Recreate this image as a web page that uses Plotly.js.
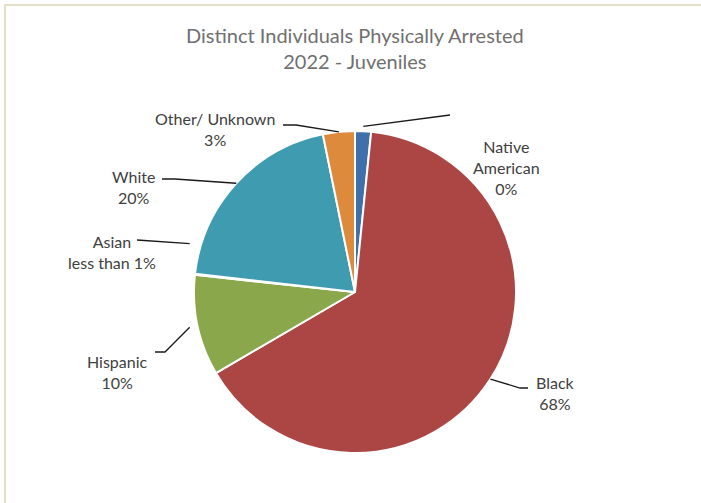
<!DOCTYPE html>
<html>
<head>
<meta charset="utf-8">
<script src="https://cdn.plot.ly/plotly-3.0.1.min.js"></script>
<style>html,body{margin:0;padding:0;background:#fff}#chart{width:701px;height:503px}</style>
</head>
<body>
<div id="chart"></div>
<script>
// ---- data ----
const categories = ["Native American", "Black", "Hispanic", "Asian", "White", "Other/ Unknown"];
const values = [1.6, 65.0, 10.1, 0.1, 20.0, 3.2];
const labelTexts = ["Native<br>American<br>0%", "Black<br>68%", "Hispanic<br>10%", "Asian<br>less than 1%", "White<br>20%", "Other/ Unknown<br>3%"];
const colors = ["#3f70ab", "#ab4644", "#8aa84b", "#72589b", "#3f9bb0", "#de8a3c"];

// ---- layout helpers ----
const W = 701, H = 503;
const px = x => x / W;
const py = y => 1 - y / H;
const cx = 355, cy = 292, R = 161;

// label placement (pixels) and leader routing
const labelPos = [
  {x: 506, y: 167, k: 1.03, da: 0, pts: [[450, 115]]},
  {x: 555, y: 393, k: 1.0, da: 0, pts: [[520, 388], [528, 388]]},
  {x: 117, y: 372, k: 1.05, da: 0, pts: [[165, 352], [155, 352]]},
  {x: 112, y: 252, k: 1.07, da: 10, pts: [[137, 240]]},
  {x: 133, y: 187, k: 1.0, da: 0, pts: [[175, 179], [162, 179]]},
  {x: 215, y: 129, k: 1.0, da: 0, pts: [[296, 125], [283, 125]]}
];

const total = values.reduce((a, b) => a + b, 0);
let cum = 0;
const shapes = [];
const annotations = [];
values.forEach((v, i) => {
  const L = labelPos[i];
  const mid = (cum + v / 2) / total * 2 * Math.PI + L.da * Math.PI / 180;
  cum += v;
  const ax = cx + R * L.k * Math.sin(mid);
  const ay = cy - R * L.k * Math.cos(mid);
  let path = `M ${px(ax)} ${py(ay)}`;
  L.pts.forEach(p => { path += ` L ${px(p[0])} ${py(p[1])}`; });
  shapes.push({type: 'path', xref: 'paper', yref: 'paper', path: path,
    line: {color: '#1a1a1a', width: 1.3}});
  annotations.push({xref: 'paper', yref: 'paper', x: px(L.x), y: py(L.y),
    xanchor: 'center', yanchor: 'middle', align: 'center', showarrow: false,
    text: labelTexts[i], font: {family: 'Lato, sans-serif', size: 16, color: '#404040'}});
});

// chart border
shapes.push({type: 'rect', xref: 'paper', yref: 'paper',
  x0: px(5), y0: py(5), x1: px(720), y1: py(520),
  line: {color: '#e2dec8', width: 2}});

annotations.push({xref: 'paper', yref: 'paper', x: px(355), y: py(48),
  xanchor: 'center', yanchor: 'middle', align: 'center', showarrow: false,
  text: 'Distinct Individuals Physically Arrested<br>2022 - Juveniles',
  font: {family: 'Lato, sans-serif', size: 20, color: '#707070'}});

const trace = {
  type: 'pie',
  labels: categories,
  values: values,
  sort: false,
  direction: 'clockwise',
  rotation: 0,
  textinfo: 'none',
  hoverinfo: 'label+percent',
  marker: {colors: colors, line: {color: '#ffffff', width: 2}},
  domain: {x: [px(cx - R), px(cx + R)], y: [py(cy + R), py(cy - R)]},
  showlegend: false
};

const layout = {
  width: W, height: H,
  margin: {l: 0, r: 0, t: 0, b: 0},
  paper_bgcolor: '#ffffff',
  showlegend: false,
  shapes: shapes,
  annotations: annotations
};

Plotly.newPlot('chart', [trace], layout, {displayModeBar: false, staticPlot: true});
</script>
</body>
</html>
